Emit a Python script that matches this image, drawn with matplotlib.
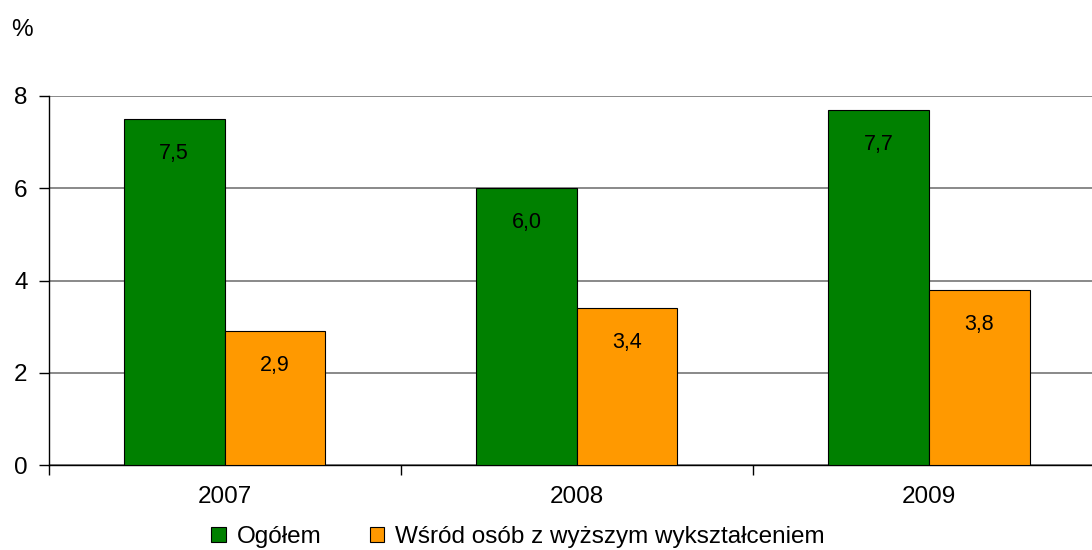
import matplotlib
matplotlib.use("Agg")
import matplotlib.pyplot as plt
import numpy as np

plt.rcParams['font.family'] = ['Liberation Sans', 'DejaVu Sans']

years = ["2007", "2008", "2009"]
ogolem = [7.5, 6.0, 7.7]
wyzsze = [2.9, 3.4, 3.8]
series_names = ["Ogółem", "Wśród osób z wyższym wykształceniem"]
colors = ["#008000", "#FF9900"]

W, H = 1092, 550
fig = plt.figure(figsize=(W / 100, H / 100), dpi=100)
left, right, bottom, top = 48.5, 1105, 465, 96
ax = fig.add_axes([left / W, 1 - bottom / H, (right - left) / W, (bottom - top) / H])

x = np.arange(len(years))
bw = 0.286
b1 = ax.bar(x - bw / 2, ogolem, bw, color=colors[0], edgecolor="black", linewidth=0.8,
            label=series_names[0], zorder=3)
b2 = ax.bar(x + bw / 2, wyzsze, bw, color=colors[1], edgecolor="black", linewidth=0.8,
            label=series_names[1], zorder=3)

for bars, vals in ((b1, ogolem), (b2, wyzsze)):
    for rect, v in zip(bars, vals):
        ax.annotate(f"{v:.1f}".replace(".", ","),
                    xy=(rect.get_x() + rect.get_width() / 2, v),
                    xytext=(0, -25), textcoords="offset points",
                    ha="center", va="center", fontsize=15.5, zorder=4)

ax.set_xlim(-0.5, 2.5)
ax.set_ylim(0, 8)
ax.set_yticks([0, 2, 4, 6, 8])
ax.set_yticklabels(["0", "2", "4", "6", "8"], fontsize=17.5)
ax.yaxis.grid(True, color="#808080", linewidth=1.3, zorder=0)
ax.set_axisbelow(True)

ax.set_xticks([-0.5, 0.5, 1.5, 2.5])
ax.set_xticklabels([])
ax.set_xticks(x, minor=True)
ax.set_xticklabels(years, minor=True, fontsize=17.5)
ax.tick_params(axis="x", which="minor", length=0, pad=15)
ax.tick_params(axis="x", which="major", length=7, width=1, direction="out")
ax.tick_params(axis="y", length=7, width=1, direction="out", pad=8)

for s in ("top", "right"):
    ax.spines[s].set_visible(False)
for s in ("left", "bottom"):
    ax.spines[s].set_linewidth(1)
    ax.spines[s].set_color("black")

fig.text(22 / W, 1 - 30 / H, "%", fontsize=17.5, ha="center", va="center")

fig.legend(handles=[b1, b2], labels=series_names, loc="center",
           bbox_to_anchor=(518 / W, 1 - 537 / H), ncol=2, frameon=False,
           fontsize=17.5, handlelength=0.6, handleheight=0.6,
           handletextpad=0.45, columnspacing=2.0, borderpad=0)

fig.savefig("out.png", dpi=100)
